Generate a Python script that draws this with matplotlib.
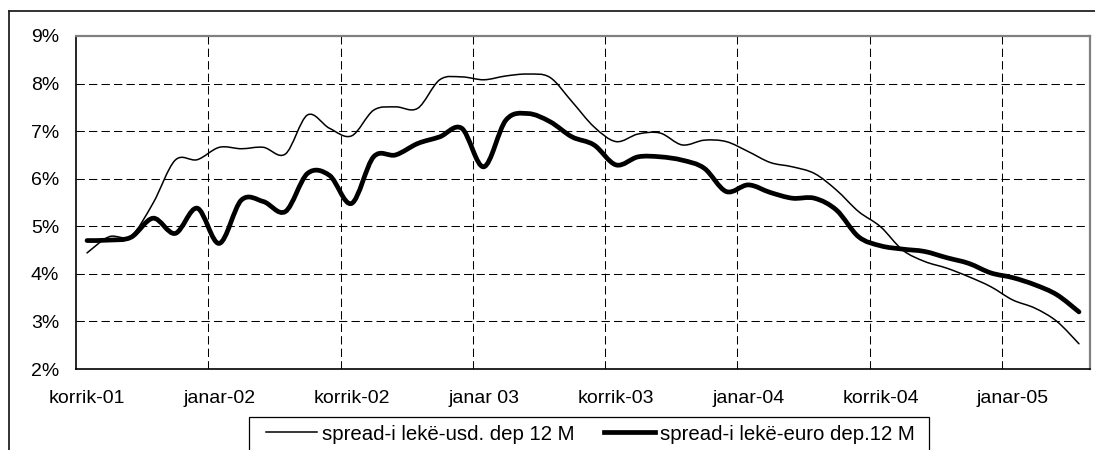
import numpy as np
import matplotlib
matplotlib.use('Agg')
from matplotlib import pyplot as plt
from matplotlib.path import Path
from matplotlib.patches import PathPatch, Rectangle
from matplotlib.lines import Line2D

plt.rcParams['font.family'] = ['Liberation Sans', 'DejaVu Sans']

# monthly, korrik-01 .. prill-05 (46 months)
usd = [4.44, 4.78, 4.80, 5.49, 6.39, 6.40, 6.66, 6.63, 6.66, 6.52,
       7.34, 7.06, 6.90, 7.44, 7.51, 7.48, 8.08, 8.14, 8.08, 8.16,
       8.20, 8.13, 7.62, 7.09, 6.78, 6.94, 6.96, 6.71, 6.81, 6.78,
       6.57, 6.34, 6.25, 6.11, 5.76, 5.31, 4.99, 4.50, 4.26, 4.12,
       3.94, 3.73, 3.45, 3.28, 3.00, 2.53]
euro = [4.70, 4.71, 4.77, 5.17, 4.85, 5.38, 4.64, 5.55, 5.52, 5.31,
        6.11, 6.07, 5.48, 6.46, 6.50, 6.74, 6.88, 7.06, 6.25, 7.23,
        7.37, 7.20, 6.88, 6.71, 6.29, 6.46, 6.46, 6.39, 6.22, 5.73,
        5.87, 5.71, 5.59, 5.59, 5.34, 4.78, 4.59, 4.52, 4.47, 4.34,
        4.22, 4.02, 3.92, 3.77, 3.56, 3.20]
tick_labels = ['korrik-01', 'janar-02', 'korrik-02', 'janar 03',
               'korrik-03', 'janar-04', 'korrik-04', 'janar-05']
names = ['spread-i lekë-usd. dep 12 M', 'spread-i lekë-euro dep.12 M']


def smooth_path(x, y):
    # Excel-like smoothed line: cubic bezier through every point
    pts = np.column_stack([x, y]).astype(float)
    n = len(pts)
    verts = [pts[0]]
    codes = [Path.MOVETO]
    for i in range(n - 1):
        p0 = pts[i - 1] if i > 0 else pts[i]
        p1 = pts[i]
        p2 = pts[i + 1]
        p3 = pts[i + 2] if i + 2 < n else pts[i + 1]
        c1 = p1 + (p2 - p0) / 6.0
        c2 = p2 - (p3 - p1) / 6.0
        verts += [c1, c2, p2]
        codes += [Path.CURVE4] * 3
    return Path(verts, codes)


W, H = 1095, 450
fig = plt.figure(figsize=(W / 100, H / 100), dpi=100)
ax = fig.add_axes([76 / W, 1 - 369 / H, (1090 - 76) / W, (369 - 36) / H])

x = np.arange(len(usd))
ax.add_patch(PathPatch(smooth_path(x, usd), fill=False, color='black',
                       lw=1.1, capstyle='round', joinstyle='round', zorder=3))
ax.add_patch(PathPatch(smooth_path(x, euro), fill=False, color='black',
                       lw=3.4, capstyle='round', joinstyle='round', zorder=4))

ax.set_xlim(-0.5, len(usd) - 0.5)
ax.set_ylim(2, 9)

ax.set_xticks(np.arange(0, len(usd), 6))
ax.set_xticklabels(tick_labels)
ax.set_xticks(np.arange(5.5, len(usd) - 1, 6), minor=True)
ax.set_yticks(np.arange(2, 10))
ax.set_yticklabels(['%d%%' % v for v in range(2, 10)])
ax.tick_params(axis='both', which='both', length=0, labelsize=14)
ax.tick_params(axis='x', pad=15)
ax.tick_params(axis='y', pad=12)

dash = (0, (8, 4))
ax.grid(False)
for v in range(3, 9):
    ax.axhline(v, color='black', lw=0.75, ls=dash, zorder=1)
for v in np.arange(5.5, len(usd) - 1, 6):
    ax.axvline(v, color='black', lw=0.75, ls=dash, zorder=1)

ax.spines['left'].set_color('black')
ax.spines['bottom'].set_color('black')
ax.spines['left'].set_linewidth(1.2)
ax.spines['bottom'].set_linewidth(1.2)
ax.spines['top'].set_color('#808080')
ax.spines['right'].set_color('#808080')
ax.spines['top'].set_linewidth(1.6)
ax.spines['right'].set_linewidth(1.6)

# outer chart frame (cut off at bottom / right in the original)
fig.add_artist(Line2D([9 / W, 1.0], [1 - 11 / H, 1 - 11 / H],
                      color='#222222', lw=1.3, transform=fig.transFigure))
fig.add_artist(Line2D([9 / W, 9 / W], [1 - 11 / H, 0.0],
                      color='#222222', lw=1.3, transform=fig.transFigure))

# legend box
fig.add_artist(Rectangle((249 / W, -0.05), (929 - 249) / W, 0.05 + 1 - 417 / H,
                         transform=fig.transFigure, fill=False,
                         edgecolor='black', lw=0.9))
handles = [Line2D([], [], color='black', lw=1.1),
           Line2D([], [], color='black', lw=3.4)]
fig.legend(handles, names, loc='center left',
           bbox_to_anchor=(266 / W, 1 - 434 / H), ncol=2, frameon=False,
           fontsize=14.7, borderpad=0, borderaxespad=0, handlelength=2.5,
           handletextpad=0.25, columnspacing=1.45)

fig.savefig('out.png', dpi=100)
